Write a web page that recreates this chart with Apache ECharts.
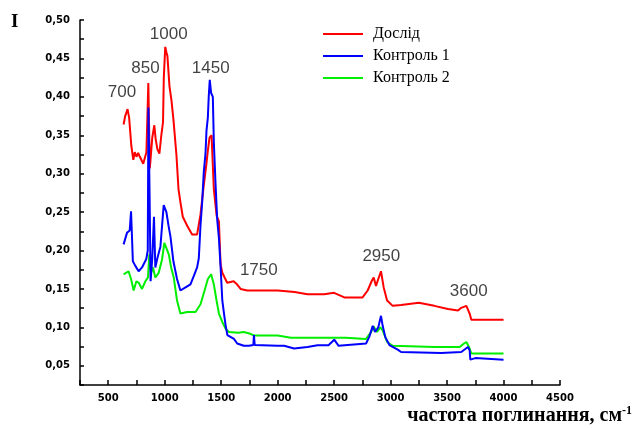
<!DOCTYPE html>
<html>
<head>
<meta charset="utf-8">
<script src="https://cdn.jsdelivr.net/npm/echarts@6/dist/echarts.min.js"></script>
<style>
html,body{margin:0;padding:0;background:#fff;}
#chart{width:637px;height:429px;}
</style>
</head>
<body>
<div id="chart"></div>
<script>
// ---- Data ----
const seriesNames = ['Дослід', 'Контроль 1', 'Контроль 2'];

const redX = [636,650,671,685,704,722,735,750,765,780,810,838,850,855,862,868,890,908,920,935,953,970,985,992,1005,1015,1024,1042,1060,1077,1104,1122,1140,1160,1200,1243,1287,1317,1346,1368,1382,1397,1415,1426,1435,1460,1480,1490,1495,1510,1553,1610,1640,1672,1731,1800,2000,2150,2264,2412,2500,2590,2752,2797,2832,2850,2871,2891,2915,2939,2969,3019,3093,3250,3387,3508,3597,3620,3671,3700,3715,4000];
const redY = [0.364,0.375,0.384,0.373,0.337,0.318,0.328,0.322,0.327,0.322,0.313,0.328,0.330,0.418,0.420,0.307,0.347,0.363,0.345,0.332,0.326,0.350,0.367,0.425,0.465,0.458,0.453,0.414,0.395,0.371,0.324,0.280,0.262,0.244,0.232,0.221,0.221,0.247,0.285,0.311,0.330,0.347,0.350,0.311,0.280,0.245,0.238,0.199,0.182,0.171,0.158,0.160,0.156,0.150,0.148,0.148,0.148,0.146,0.143,0.143,0.145,0.139,0.139,0.148,0.160,0.165,0.154,0.163,0.173,0.152,0.135,0.128,0.129,0.132,0.128,0.124,0.122,0.125,0.128,0.118,0.110,0.110];

const blueX = [636,666,690,702,708,718,740,769,799,837,850,856,862,868,875,890,905,917,935,962,991,1000,1015,1033,1051,1077,1109,1139,1184,1228,1258,1287,1302,1317,1331,1346,1361,1370,1382,1390,1399,1411,1426,1435,1450,1465,1480,1495,1510,1525,1540,1555,1613,1642,1700,1745,1785,1790,1797,2000,2057,2146,2264,2353,2450,2501,2540,2783,2812,2842,2862,2891,2915,2930,2954,2990,3063,3093,3448,3626,3685,3700,3706,3750,3760,4000];
const blueY = [0.208,0.223,0.226,0.251,0.227,0.186,0.180,0.173,0.178,0.189,0.200,0.386,0.386,0.250,0.160,0.190,0.244,0.178,0.190,0.205,0.259,0.261,0.250,0.233,0.218,0.186,0.163,0.148,0.152,0.156,0.167,0.178,0.190,0.233,0.261,0.302,0.326,0.356,0.373,0.401,0.422,0.405,0.400,0.341,0.287,0.240,0.216,0.178,0.135,0.118,0.102,0.090,0.085,0.079,0.076,0.076,0.077,0.090,0.077,0.076,0.076,0.0725,0.0745,0.0767,0.0767,0.084,0.076,0.079,0.088,0.102,0.094,0.100,0.115,0.102,0.087,0.077,0.071,0.068,0.0667,0.068,0.0745,0.070,0.058,0.060,0.058,0.058];

const greenX = [636,680,702,725,749,770,799,829,852,864,879,896,917,947,976,997,1012,1036,1057,1080,1109,1139,1198,1273,1317,1353,1382,1411,1435,1459,1480,1510,1540,1569,1650,1700,1750,1790,2000,2117,2353,2600,2783,2827,2850,2880,2909,2930,2969,3019,3390,3612,3641,3671,3694,3715,4000];
const greenY = [0.169,0.173,0.163,0.148,0.160,0.158,0.150,0.160,0.165,0.195,0.171,0.178,0.165,0.171,0.188,0.210,0.212,0.195,0.178,0.165,0.135,0.118,0.120,0.120,0.130,0.148,0.163,0.169,0.156,0.135,0.118,0.107,0.098,0.094,0.093,0.094,0.092,0.0895,0.0895,0.0866,0.0866,0.0866,0.085,0.094,0.101,0.094,0.100,0.096,0.081,0.076,0.0745,0.0745,0.078,0.081,0.0745,0.066,0.066];

// Peak annotations (position in data units, text)
const peakX = [622, 830, 1036, 1407, 1833, 2918, 3692];
const peakY = [0.406, 0.4365, 0.4814, 0.4365, 0.1747, 0.193, 0.1465];
const peakText = ['700', '850', '1000', '1450', '1750', '2950', '3600'];

// Axis ticks
const xMin = 250, xMax = 4500, xStep = 250;
const yMin = 0.025, yMax = 0.5, yStep = 0.025;

const zip = (xs, ys) => xs.map((x, i) => [x, ys[i]]);

const chart = echarts.init(document.getElementById('chart'), null, {renderer: 'canvas'});

const tickFont = {fontFamily: 'DejaVu Sans, sans-serif', fontWeight: 'bold', fontSize: 10, color: '#000'};

chart.setOption({
  animation: false,
  backgroundColor: '#fff',
  grid: {left: 80, right: 77, top: 20, bottom: 44, containLabel: false},
  legend: {
    orient: 'vertical',
    left: 318,
    top: 21,
    itemWidth: 40,
    itemHeight: 2,
    itemGap: 6,
    icon: 'rect',
    data: seriesNames,
    textStyle: {fontFamily: 'Liberation Serif, Times New Roman, serif', fontSize: 16, color: '#000', padding: [0,0,0,5]}
  },
  xAxis: {
    type: 'value', min: xMin, max: xMax, interval: xStep,
    axisLine: {lineStyle: {color: '#000', width: 1.5}},
    axisTick: {inside: true, length: 5, lineStyle: {color: '#000', width: 1.5}},
    splitLine: {show: false},
    axisLabel: Object.assign({margin: 8, formatter: v => (Math.round(v) % 500 === 0 ? String(v) : '')}, tickFont)
  },
  yAxis: {
    type: 'value', min: yMin, max: yMax, interval: yStep,
    axisLine: {show: true, lineStyle: {color: '#000', width: 1.5}},
    axisTick: {show: true, inside: true, length: 4, lineStyle: {color: '#000', width: 1.5}},
    splitLine: {show: false},
    axisLabel: Object.assign({margin: 10, formatter: v => {
      const k = Math.round(v * 1000);
      return k % 50 === 0 ? (k / 1000).toFixed(2).replace('.', ',') : '';
    }}, tickFont)
  },
  graphic: [
    {type: 'text', left: 11, top: 13, style: {text: 'I', font: 'bold 19px "Liberation Serif", serif', fill: '#000'}},
    {type: 'text', right: 5, top: 405, style: {
      text: '{a|частота поглинання, см}{b|-1}',
      rich: {
        a: {font: 'bold 20px "Liberation Serif", serif', fill: '#000'},
        b: {font: 'bold 12px "Liberation Serif", serif', fill: '#000', verticalAlign: 'top', padding: [0,0,10,0]}
      }
    }}
  ],
  series: [
    {name: seriesNames[0], type: 'line', data: zip(redX, redY), showSymbol: false, symbol: 'none',
     lineStyle: {color: '#ff0000', width: 2}, itemStyle: {color: '#ff0000'}, z: 2},
    {name: seriesNames[2], type: 'line', data: zip(greenX, greenY), showSymbol: false, symbol: 'none',
     lineStyle: {color: '#00ee00', width: 2}, itemStyle: {color: '#00ee00'}, z: 3},
    {name: seriesNames[1], type: 'line', data: zip(blueX, blueY), showSymbol: false, symbol: 'none',
     lineStyle: {color: '#0000ff', width: 2}, itemStyle: {color: '#0000ff'}, z: 4},
    {name: 'peaks', type: 'scatter', symbolSize: 0, silent: true, z: 5,
     data: peakX.map((x, i) => ({value: [x, peakY[i]], name: peakText[i]})),
     label: {show: true, position: 'inside', formatter: p => p.name,
       fontFamily: 'Liberation Sans, Arial, sans-serif', fontSize: 17, color: '#111'}}
  ]
});
</script>
</body>
</html>
